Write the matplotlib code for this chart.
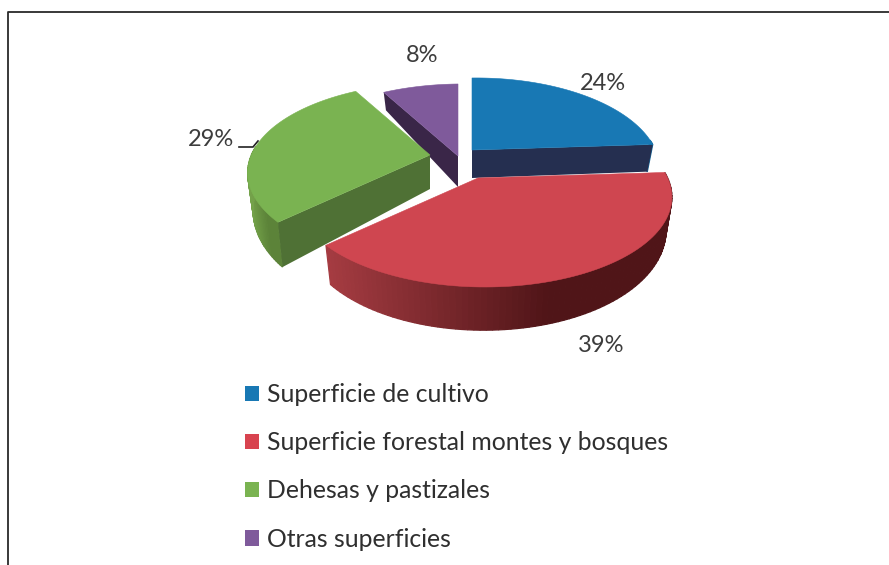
import numpy as np
import matplotlib
matplotlib.use("Agg")
import matplotlib.pyplot as plt
from matplotlib.patches import Patch
from matplotlib.colors import to_rgb

categories = ["Superficie de cultivo", "Superficie forestal montes y bosques",
              "Dehesas y pastizales", "Otras superficies"]
values = [24, 39, 29, 8]
labels = ["24%", "39%", "29%", "8%"]

top_colors = ["#1878B4", "#CF4650", "#7AB351", "#7F5A9B"]
legend_colors = ["#1878B4", "#D8434F", "#7AB351", "#7F5A9B"]
cut_colors = ["#252F50", "#7A2A30", "#4F7135", "#3A2648"]
# colour of the outer wall, left end and right end of the visible part
wall_left = ["#1B6A9C", "#A63C42", "#74A24A", "#6A4A85"]
wall_right = ["#1B6A9C", "#501518", "#5C8339", "#6A4A85"]

# centre x, centre y, radius x, wall depth for each slice (pixels)
centers = [(472, 150, 178, 28), (478, 178, 184, 30), (430, 155, 184, 34), (458, 156, 184, 31)]
# which cut faces can be seen: start of the arc, end of the arc
show_cut = [(False, True), (False, False), (True, False), (True, False)]
RY = 86.7
PERSP = 0.204
SKEW = 0.03
label_pos = [(603, 83), (601, 345), (211, 139), (422, 56)]


def project(c, t):
    cx, cy, rx, d = c
    u, v = np.cos(t), np.sin(t)
    s = 1 / (1 + PERSP * v - SKEW * u)
    x = cx + rx * u * s
    y = cy - RY * v * s
    # bottom face is a bit smaller, the wall gets taller towards the viewer
    xb = cx + rx * u * s * 0.97
    yb = cy - RY * v * s * 0.97 + d * (1 - 0.55 * v)
    return x, y, xb, yb


def draw_slice(ax, i, t0, t1):
    c = centers[i]
    ts = np.linspace(t0, t1, 90)
    x, y, xb, yb = project(c, ts)
    ax0, ay0 = c[0], c[1]
    bx0, by0 = c[0], c[1] + c[3]

    # outer wall, only the part facing the viewer, as small shaded strips
    front = np.sin(ts) < 0.12
    idx = np.where(front)[0]
    left = to_rgb(wall_left[i])
    right = to_rgb(wall_right[i])
    xmin, xmax = x[idx].min() if len(idx) else 0, x[idx].max() if len(idx) else 1
    for a, b in zip(idx[:-1], idx[1:]):
        if b != a + 1:
            continue
        f = min(1, ((x[a] - xmin) / (xmax - xmin + 1e-6)) / 0.65)
        col = [left[k] * (1 - f) + right[k] * f for k in range(3)]
        ax.fill([x[a], x[b], xb[b], xb[a]], [y[a], y[b], yb[b], yb[a]],
                color=col, lw=0.9, zorder=i_z[i])

    # cut faces from the centre to the ends of the arc
    for k, show in zip((0, -1), show_cut[i]):
        if show:
            ax.fill([ax0, x[k], xb[k], bx0], [ay0, y[k], yb[k], by0],
                    color=cut_colors[i], lw=0, zorder=i_z[i] + 0.1)

    ax.fill(np.r_[ax0, x], np.r_[ay0, y], color=top_colors[i], lw=0.4, zorder=i_z[i] + 0.2)


# back slices first, red goes over the rest
i_z = [2, 4, 3, 1]

plt.rcParams["font.family"] = "Lato"

fig = plt.figure(figsize=(8.89, 5.65), dpi=100)
ax = fig.add_axes([0, 0, 1, 1])
ax.set_xlim(0, 889)
ax.set_ylim(565, 0)
ax.axis("off")

ax.plot([7.5, 7.5, 889], [565, 11.5, 11.5], color="#2a2a2a", lw=1.3, zorder=0)

angle = np.pi / 2
for i, val in enumerate(values):
    sweep = val / sum(values) * 2 * np.pi
    draw_slice(ax, i, angle, angle - sweep)
    angle -= sweep

for lab, (lx, ly) in zip(labels, label_pos):
    ax.text(lx, ly, lab, ha="center", va="center", fontsize=17, color="#3c3c3c", zorder=6)

# leader line of the 29% label
ax.plot([239, 253, 258], [147, 147, 141], color="#222222", lw=1.2, zorder=6)

handles = [Patch(facecolor=col, edgecolor="none", label=cat)
           for col, cat in zip(legend_colors, categories)]
leg = ax.legend(handles=handles, loc="upper left", bbox_to_anchor=(245 / 889, 1 - 383 / 565),
                frameon=False, fontsize=17.8, labelspacing=1.02, handlelength=0.58,
                handleheight=0.58, handletextpad=0.3, borderpad=0, borderaxespad=0)
for t in leg.get_texts():
    t.set_color("#2f2f2f")

fig.savefig("out.png", dpi=100)
